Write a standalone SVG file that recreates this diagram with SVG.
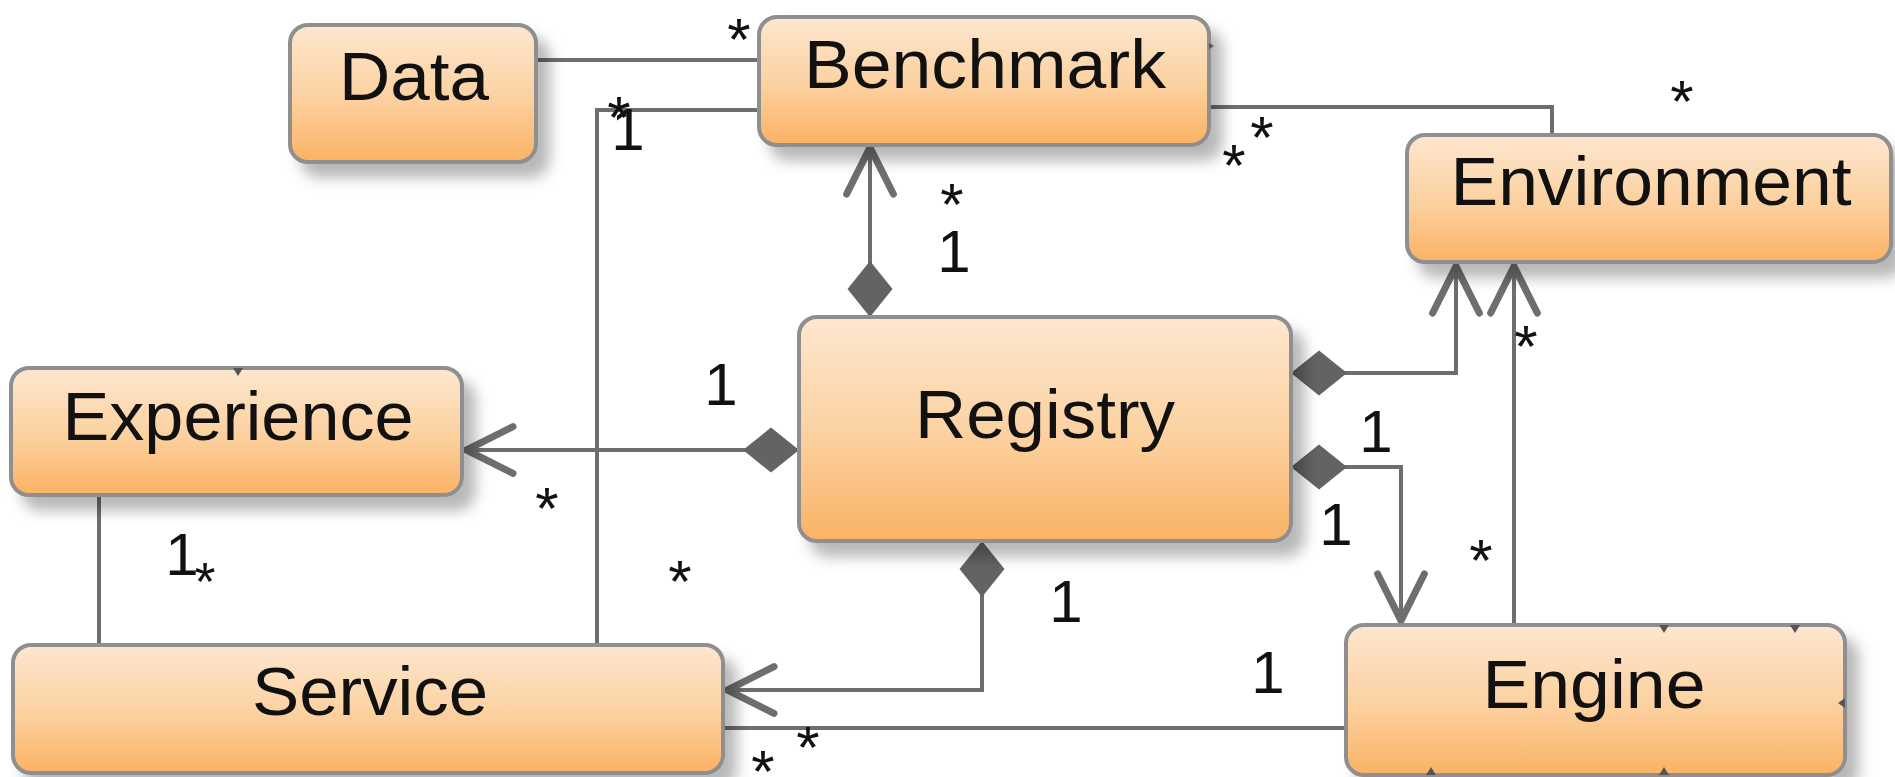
<svg xmlns="http://www.w3.org/2000/svg" width="1895" height="777" viewBox="0 0 1895 777">
<defs>
<linearGradient id="fillG" x1="0" y1="0" x2="0" y2="1">
<stop offset="0" stop-color="#fde7d0"/>
<stop offset="0.55" stop-color="#fcd09e"/>
<stop offset="1" stop-color="#fbb263"/>
</linearGradient>
<filter id="shadow" x="-10%" y="-10%" width="130%" height="140%">
<feDropShadow dx="12" dy="14" stdDeviation="7" flood-color="#000" flood-opacity="0.28"/>
</filter>
<marker id="open" markerUnits="userSpaceOnUse" markerWidth="70" markerHeight="70" viewBox="-50 -30 60 60" refX="0" refY="0" orient="auto" overflow="visible">
<path d="M-42,-20 L-2,0 L-42,20" fill="none" stroke="#6e6e6e" stroke-width="6" stroke-linejoin="miter" stroke-linecap="round"/>
</marker>
<marker id="diamond" markerUnits="userSpaceOnUse" markerWidth="70" markerHeight="70" viewBox="-5 -30 70 60" refX="0" refY="0" orient="auto" overflow="visible">
<path d="M0,0 L28,-22.5 L56,0 L28,22.5 Z" fill="#636363"/>
</marker>
</defs>
<style>
.box{fill:url(#fillG);stroke:#8f8f8f;stroke-width:4;filter:url(#shadow);}
.name{font-family:"Liberation Sans",Arial,sans-serif;font-size:68px;fill:#111;text-anchor:middle;}
.lbl{font-family:"Liberation Sans",Arial,sans-serif;font-size:60px;fill:#111;text-anchor:middle;}
.edge{fill:none;stroke:#6e6e6e;stroke-width:4;}
.tick{fill:#555;}
</style>
<rect width="1895" height="777" fill="#ffffff"/>

<g id="connectors">
<path class="edge" d="M536,60 H759"/>
<path class="edge" d="M759,110 H597 V645"/>
<path class="edge" d="M1209,107 H1552 V135"/>
<path class="edge" d="M870,317 V145" marker-start="url(#diamond)" marker-end="url(#open)"/>
<path class="edge" d="M799,450 H464" marker-start="url(#diamond)" marker-end="url(#open)"/>
<path class="edge" d="M99,495 V645"/>
<path class="edge" d="M982,541 V690 H725" marker-start="url(#diamond)" marker-end="url(#open)"/>
<path class="edge" d="M1291,467 H1401 V623" marker-start="url(#diamond)" marker-end="url(#open)"/>
<path class="edge" d="M1291,373 H1456 V264" marker-start="url(#diamond)" marker-end="url(#open)"/>
<path class="edge" d="M1514,625 V264" marker-end="url(#open)"/>
<path class="edge" d="M1346,728 H725"/>
</g>

<g id="labels">
<text class="lbl" x="739" y="60">*</text>
<text class="lbl" x="619" y="138">*</text>
<text class="lbl" x="628" y="150">1</text>
<text class="lbl" x="1262" y="158">*</text>
<text class="lbl" x="1234" y="186">*</text>
<text class="lbl" x="1682" y="122">*</text>
<text class="lbl" x="952" y="225">*</text>
<text class="lbl" x="954" y="272">1</text>
<text class="lbl" x="721" y="405">1</text>
<text class="lbl" x="547" y="529">*</text>
<text class="lbl" x="182" y="575">1</text>
<text class="lbl" x="205" y="600" style="font-size:54px">*</text>
<text class="lbl" x="680" y="602">*</text>
<text class="lbl" x="1066" y="622">1</text>
<text class="lbl" x="1376" y="452">1</text>
<text class="lbl" x="1336" y="545">1</text>
<text class="lbl" x="1526" y="367">*</text>
<text class="lbl" x="1481" y="581">*</text>
<text class="lbl" x="1268" y="693">1</text>
<text class="lbl" x="808" y="768">*</text>
<text class="lbl" x="763" y="792">*</text>
</g>

<g id="node-data">
<rect class="box" x="290" y="25" width="246" height="137" rx="18"/>
<text class="name" x="414" y="100" textLength="150" lengthAdjust="spacingAndGlyphs">Data</text>
</g>
<g id="node-benchmark">
<rect class="box" x="759" y="17" width="450" height="128" rx="18"/>
<path class="tick" d="M1209,43 l5,3 l-5,3 z"/>
<text class="name" x="985" y="88" textLength="362" lengthAdjust="spacingAndGlyphs">Benchmark</text>
</g>
<g id="node-environment">
<rect class="box" x="1407" y="135" width="484" height="127" rx="18"/>
<text class="name" x="1651" y="205" textLength="401" lengthAdjust="spacingAndGlyphs">Environment</text>
</g>
<g id="node-registry">
<rect class="box" x="799" y="317" width="492" height="224" rx="18"/>
<text class="name" x="1045" y="438" textLength="260" lengthAdjust="spacingAndGlyphs">Registry</text>
</g>
<g id="node-experience">
<rect class="box" x="11" y="368" width="451" height="127" rx="18"/>
<path class="tick" d="M233,368 h10 l-5,8 z"/>
<text class="name" x="238" y="440" textLength="351" lengthAdjust="spacingAndGlyphs">Experience</text>
</g>
<g id="node-service">
<rect class="box" x="13" y="645" width="710" height="128" rx="18"/>
<text class="name" x="370" y="715" textLength="236" lengthAdjust="spacingAndGlyphs">Service</text>
</g>
<g id="node-engine">
<rect class="box" x="1346" y="625" width="499" height="150" rx="18"/>
<path class="tick" d="M1659,625 h10 l-5,8 z M1790,625 h10 l-5,8 z M1426,775 h10 l-5,-8 z M1659,775 h10 l-5,-8 z M1845,698 v10 l-7,-5 z"/>
<text class="name" x="1594" y="708" textLength="223" lengthAdjust="spacingAndGlyphs">Engine</text>
</g>
</svg>
